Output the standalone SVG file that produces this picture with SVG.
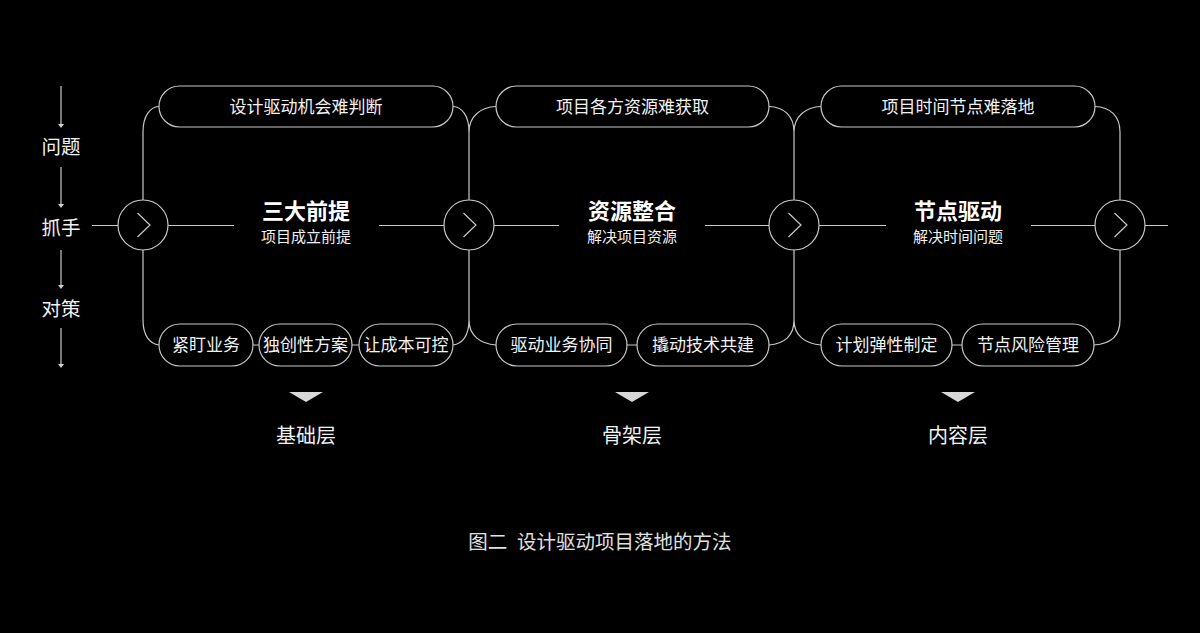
<svg xmlns="http://www.w3.org/2000/svg" width="1200" height="633" viewBox="0 0 1200 633">
<defs>
<style>
.ln{fill:none;stroke:#c8c8c8;stroke-width:1.2}
.pill{fill:#000;stroke:#c8c8c8;stroke-width:1.2}
.t{font-family:"Noto Sans CJK SC","Noto Sans",sans-serif;fill:#f2f2f2;text-anchor:middle;dominant-baseline:central}
.p{font-size:17px}
.h{font-size:22px;font-weight:bold;fill:#fff}
.s{font-size:15px}
.l{font-size:19.5px}
.lay{font-size:20px}
.cap{font-size:19.5px;fill:#e0e0e0}
.tri{fill:#d8d8d8}
.ah{fill:#d0d0d0}
</style>
<g id="chev"><circle r="25" class="pill"/><path d="M-5.5,-12 L7,0 L-5.5,12" class="ln" stroke-width="1.4"/></g>
</defs>
<rect width="1200" height="633" fill="#000"/>

<g id="connectors">
<!-- left column arrows -->
<path class="ln" d="M61,86 V125 M61,167 V205 M61,250 V286 M61,328 V365"/>
<path class="ah" d="M58,124 H64 L61,128 Z M58,204 H64 L61,208 Z M58,285 H64 L61,289 Z M58,364 H64 L61,368 Z"/>
<!-- horizontal axis -->
<path class="ln" d="M92,225.5 H118 M168,225.5 H234 M379,225.5 H444 M494,225.5 H559 M705,225.5 H769 M819,225.5 H886 M1031,225.5 H1095 M1145,225.5 H1168"/>
<!-- vertical frames with curves -->
<path class="ln" d="M143,200 V132 C143,116 150,107 159,106.5"/>
<path class="ln" d="M143,250 V320 C143,336 150,344 159,345"/>
<path class="ln" d="M453,106.5 C462,107 469,116 469,132 V200 M469,132 C469,116 481,107 496,106.5"/>
<path class="ln" d="M453,345 C462,344 469,336 469,320 V250 M469,320 C469,336 481,344 496,345"/>
<path class="ln" d="M769,106.5 C784,107 794,116 794,132 V200 M794,132 C794,116 806,107 821,106.5"/>
<path class="ln" d="M769,345 C784,344 794,336 794,320 V250 M794,320 C794,336 806,344 821,345"/>
<path class="ln" d="M1095,106.5 C1110,107 1120,116 1120,132 V200"/>
<path class="ln" d="M1094,345 C1110,344 1120,336 1120,320 V250"/>
<!-- small links between bottom pills -->
<path class="ln" d="M253,345 H259 M352,345 H359 M627,345 H637 M952,345 H962"/>
</g>

<g id="labels-left">
<text class="t l" x="61" y="145">问题</text>
<text class="t l" x="61" y="226">抓手</text>
<text class="t l" x="61" y="307">对策</text>
</g>

<g id="circle1"><use href="#chev" x="143" y="225"/></g>
<g id="circle2"><use href="#chev" x="469" y="225"/></g>
<g id="circle3"><use href="#chev" x="794" y="225"/></g>
<g id="circle4"><use href="#chev" x="1120" y="225"/></g>

<g id="stage1">
<rect class="pill" x="159" y="86" width="294" height="41" rx="20.5"/>
<text class="t p" x="306" y="105">设计驱动机会难判断</text>
<text class="t h" x="306" y="209">三大前提</text>
<text class="t s" x="306" y="235.5">项目成立前提</text>
</g>
<g id="s1a"><rect class="pill" x="159" y="324" width="94" height="42" rx="21"/><text class="t p" x="206" y="343.5">紧盯业务</text></g>
<g id="s1b"><rect class="pill" x="259" y="324" width="93" height="42" rx="21"/><text class="t p" x="305.5" y="343.5">独创性方案</text></g>
<g id="s1c"><rect class="pill" x="359" y="324" width="94" height="42" rx="21"/><text class="t p" x="406" y="343.5">让成本可控</text></g>

<g id="stage2">
<rect class="pill" x="496" y="86" width="273" height="41" rx="20.5"/>
<text class="t p" x="632.5" y="105">项目各方资源难获取</text>
<text class="t h" x="632" y="209">资源整合</text>
<text class="t s" x="632" y="235.5">解决项目资源</text>
</g>
<g id="s2a"><rect class="pill" x="496" y="324" width="131" height="42" rx="21"/><text class="t p" x="561.5" y="343.5">驱动业务协同</text></g>
<g id="s2b"><rect class="pill" x="637" y="324" width="132" height="42" rx="21"/><text class="t p" x="703" y="343.5">撬动技术共建</text></g>

<g id="stage3">
<rect class="pill" x="821" y="86" width="274" height="41" rx="20.5"/>
<text class="t p" x="958" y="105">项目时间节点难落地</text>
<text class="t h" x="958" y="209">节点驱动</text>
<text class="t s" x="958" y="235.5">解决时间问题</text>
</g>
<g id="s3a"><rect class="pill" x="821" y="324" width="131" height="42" rx="21"/><text class="t p" x="886.5" y="343.5">计划弹性制定</text></g>
<g id="s3b"><rect class="pill" x="962" y="324" width="132" height="42" rx="21"/><text class="t p" x="1028" y="343.5">节点风险管理</text></g>

<g id="layer1"><path class="tri" d="M289,392 H323 L306,402 Z"/><text class="t lay" x="306" y="434">基础层</text></g>
<g id="layer2"><path class="tri" d="M615,392 H649 L632,402 Z"/><text class="t lay" x="632" y="434">骨架层</text></g>
<g id="layer3"><path class="tri" d="M941,392 H975 L958,402 Z"/><text class="t lay" x="958" y="434">内容层</text></g>

<g id="caption"><text class="t cap" x="600" y="540">图二&#8194;设计驱动项目落地的方法</text></g>
</svg>
